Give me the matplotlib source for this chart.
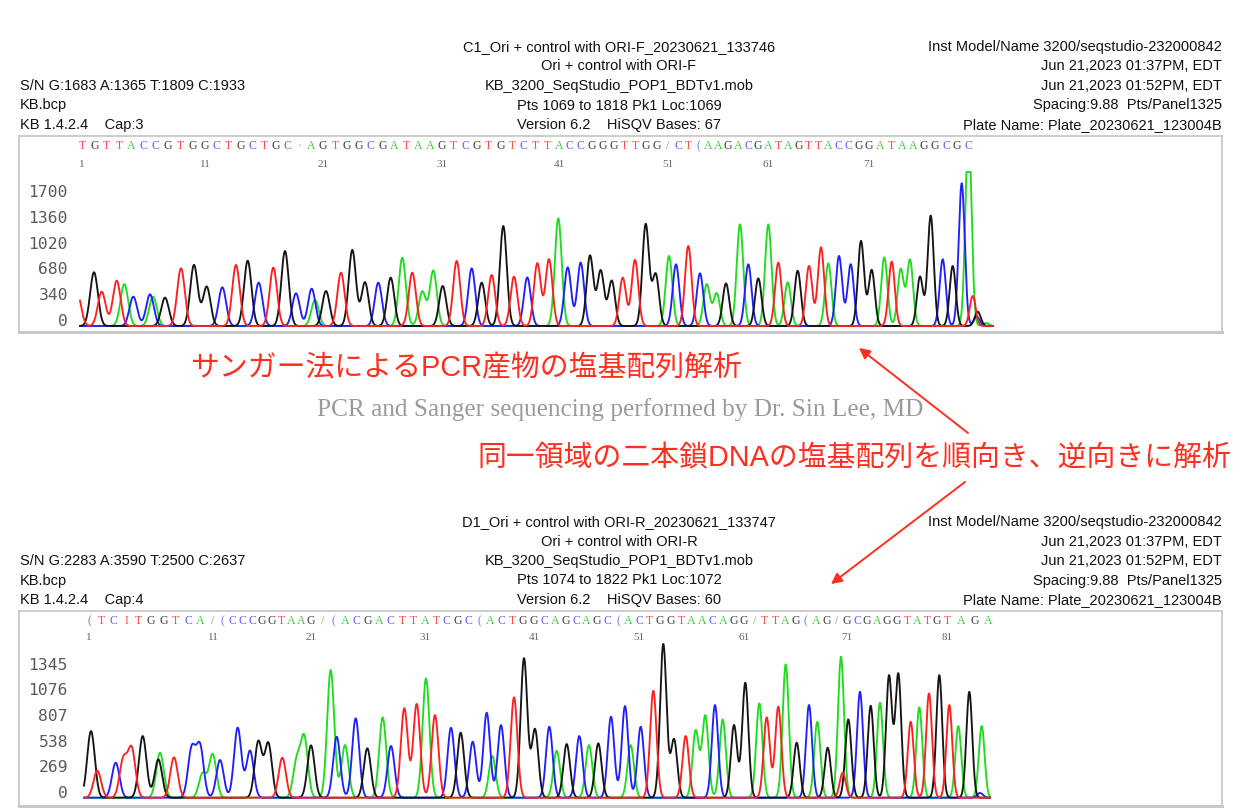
import numpy as np
import matplotlib
matplotlib.use("Agg")
import matplotlib.pyplot as plt

##### Sanger chromatograms: forward (ORI-F) and reverse (ORI-R) read of the same region
##### peak lists are (scan position, signal height)

#### forward read, one list per dye channel
fwd_G = [(94, 708), (165, 374), (194, 804), (206.7, 518), (247.7, 861), (285, 988), (326, 461),
         (352.3, 1002), (365, 576), (390.7, 637), (442.7, 527), (481.7, 571), (503.3, 1318),
         (590, 927), (600.7, 729), (611.7, 597), (645.7, 1340), (655.7, 681), (726, 562),
         (758.3, 628), (797.7, 729), (861, 1120), (871.7, 738), (920, 650), (930.7, 1454),
         (952.7, 791), (977.7, 189)]
fwd_T = [(77, 450), (101.7, 452), (116.7, 597), (181, 760), (236, 804), (273.3, 769), (341, 703),
         (412.3, 703), (456.7, 857), (491.7, 672), (514, 650), (537.3, 826), (549, 879),
         (622.7, 637), (635, 870), (688.3, 1054), (778.3, 835), (809, 791), (821, 1037),
         (891.7, 848), (972.7, 395)]
fwd_A = [(124.3, 553), (153, 387), (315, 343), (402.3, 900), (422.3, 452), (433.3, 729),
         (558.3, 1419), (669, 923), (706.7, 549), (716.7, 431), (740, 1340), (768.3, 1340),
         (787.7, 576), (828.3, 826), (884.3, 905), (900.7, 747), (910, 870), (968.5, 2600),
         (986, 40)]
fwd_C = [(133.3, 387), (150, 417), (222.3, 510), (258.7, 571), (296, 431), (311.7, 492),
         (378.3, 571), (471.7, 760), (527.3, 641), (567.7, 773), (580.7, 835), (676, 813),
         (700, 694), (748.3, 813), (839, 923), (850.7, 813), (942.7, 879), (961.7, 1881),
         (976.7, 123)]

#### reverse read
rev_G = [(91, 700), (142.7, 648), (158.3, 403), (258.3, 588), (268.3, 571), (311, 550),
         (367.3, 519), (460.7, 683), (524, 1464), (535, 718), (566.7, 564), (598.3, 571),
         (663.3, 1614), (674, 613), (734, 763), (745.3, 1208), (796.7, 578), (827.7, 525),
         (848.3, 823), (870.7, 966), (889, 1278), (898.3, 1299), (939.3, 1288), (969.3, 1113)]
rev_T = [(97.3, 284), (123.3, 396), (131.7, 508), (174, 424), (282.3, 420), (404.3, 939),
         (416.7, 984), (435, 868), (514, 1055), (653.3, 1124), (685.7, 648), (766.7, 844),
         (778.3, 956), (842.7, 263), (910.7, 798), (929, 1096), (949.3, 974)]
rev_A = [(160, 473), (202.7, 256), (212.7, 456), (296.7, 378), (304.3, 624), (330.7, 1341),
         (345, 553), (382.7, 844), (426, 1254), (492.3, 438), (556.7, 494), (589, 553),
         (630.7, 553), (695.7, 704), (705.3, 861), (722.7, 823), (759.3, 991), (785.7, 1401),
         (817.3, 798), (841, 1481), (880, 998), (919.3, 949), (958.3, 753), (981.7, 753)]
rev_C = [(115.7, 368), (191.7, 511), (200, 536), (220, 396), (237.7, 735), (250, 494),
         (336.7, 641), (355.7, 834), (391, 543), (451, 735), (472.7, 588), (486.7, 893),
         (501, 763), (549.3, 746), (579.3, 648), (611, 851), (625, 963), (640.7, 746),
         (715, 974), (809, 974), (860, 1113), (980, 50)]

#### base calls as printed above the traces (odd glyphs are clipped letters on the print)
fwd_seq = "TGTTACCGTGGCTGCTGC·AGTGGCGATAAGTCGTGTCTTACCGGGTTGG/CT(AAGACGATAGTTACCGGATAAGGCGC"
rev_seq = "(TCITGGTCA/(CCCGGTAAG/(ACGACTTATCGC(ACTGGCAGCAGC(ACTGGTAACAGG/TTAG(AG/GCGAGGTATGTAGA"

#### base number -> scan position of the numbered bases
fwd_base_no = [1, 11, 21, 31, 41, 51, 61, 71, 80]
fwd_base_pos = [82, 205, 323, 442, 559, 668, 768, 869, 968]
rev_base_no = [1, 11, 21, 31, 41, 51, 61, 71, 81, 84]
rev_base_pos = [89, 213, 311, 425, 534, 639, 744, 847, 947, 988]

#### y axis labels
fwd_yticks = [0, 340, 680, 1020, 1360, 1700]
rev_yticks = [0, 269, 538, 807, 1076, 1345]

#### header blocks (left / centre / right columns)
fwd_left = ["S/N G:1683 A:1365 T:1809 C:1933", "KB.bcp", "KB 1.4.2.4    Cap:3"]
fwd_center = ["C1_Ori + control with ORI-F_20230621_133746", "Ori + control with ORI-F",
              "KB_3200_SeqStudio_POP1_BDTv1.mob", "Pts 1069 to 1818 Pk1 Loc:1069",
              "Version 6.2    HiSQV Bases: 67"]
rev_left = ["S/N G:2283 A:3590 T:2500 C:2637", "KB.bcp", "KB 1.4.2.4    Cap:4"]
rev_center = ["D1_Ori + control with ORI-R_20230621_133747", "Ori + control with ORI-R",
              "KB_3200_SeqStudio_POP1_BDTv1.mob", "Pts 1074 to 1822 Pk1 Loc:1072",
              "Version 6.2    HiSQV Bases: 60"]
right_block = ["Inst Model/Name 3200/seqstudio-232000842", "Jun 21,2023 01:37PM, EDT",
               "Jun 21,2023 01:52PM, EDT", "Spacing:9.88  Pts/Panel1325",
               "Plate Name: Plate_20230621_123004B"]

title_1 = "サンガー法によるPCR産物の塩基配列解析"
title_2 = "同一領域の二本鎖DNAの塩基配列を順向き、逆向きに解析"
credit = "PCR and Sanger sequencing performed by Dr. Sin Lee, MD"

trace_colors = {'G': '#151515', 'A': '#1fdc1f', 'T': '#ff1f1f', 'C': '#2020ff'}
letter_colors = {'G': '#444444', 'A': '#3ccc3c', 'T': '#ff4a4a', 'C': '#6060ff',
                 '·': '#3ccc3c', '/': '#55bb55', '(': '#7070ff', 'I': '#ff4a4a'}
red = '#ff2e1f'

W, H = 1240.0, 810.0
fig = plt.figure(figsize=(W / 100, H / 100), dpi=100)
fig.patch.set_facecolor('white')


def fx(x):
    return x / W


def fy(y):
    return 1 - y / H


#### sum of peaks for one dye channel; peaks get a bit sharper along the run
def channel(xs, peaks, w0, w1):
    y = np.zeros_like(xs)
    for c, h in peaks:
        w = w0 + (w1 - w0) * (c - xs[0]) / (xs[-1] - xs[0])
        y += h * np.exp(-0.5 * ((xs - c) / w) ** 2)
    return y


#### one chromatogram panel
def panel(box, ylim, chans, start, end, widths, yticks, seq, base_no, base_pos,
          letter_y, number_y, clip_top=None):
    left, top, right, bottom = box
    ax = fig.add_axes([fx(left), fy(bottom), (right - left) / W, (bottom - top) / H])
    ax.set_xlim(left, right)
    ax.set_ylim(*ylim)
    xs = np.linspace(start, end, 4000)
    for base in ['A', 'C', 'G', 'T']:
        ys = channel(xs, chans[base], *widths)
        if clip_top is not None:
            ys = np.minimum(ys, clip_top)
        ax.plot(xs, ys, color=trace_colors[base], lw=1.35, solid_joinstyle='round')
    for v in yticks:
        ax.text(left + 49, v, str(v), ha='right', va='baseline', family='DejaVu Sans Mono',
                fontsize=11.8, color='#5a5a5a')
    tr = ax.get_xaxis_transform()
    idx = np.arange(1, len(seq) + 1)
    letter_x = np.interp(idx, base_no, base_pos)
    for ch, x in zip(seq, letter_x):
        ax.text(x, letter_y, ch, transform=tr, ha='center', va='center',
                family='Liberation Serif', fontsize=8.5, color=letter_colors.get(ch, '#888888'))
    for n, x in zip(base_no, base_pos):
        if (n - 1) % 10 == 0:
            ax.text(x, number_y, str(n), transform=tr, ha='center', va='center',
                    family='Liberation Serif', fontsize=8, color='#666666')
    ax.set_xticks([])
    ax.set_yticks([])
    for s in ax.spines.values():
        s.set_color('#c9c9c9')
        s.set_linewidth(1.3)
    ax.spines['bottom'].set_linewidth(2.2)
    return ax


#### header text for one panel
def header(top_y, left_lines, center_lines, right_lines):
    kw = dict(family='Liberation Sans', fontsize=10.5, color='#111111', va='center')
    step = 19.5
    for i, t in enumerate(center_lines):
        fig.text(fx(619), fy(top_y + i * step), t, ha='center', **kw)
    for i, t in enumerate(right_lines):
        fig.text(fx(1222), fy(top_y + i * step), t, ha='right', **kw)
    for i, t in enumerate(left_lines):
        fig.text(fx(20), fy(top_y + (i + 2) * step), t, ha='left', **kw)


header(47, fwd_left, fwd_center, right_block)
header(522, rev_left, rev_center, right_block)

panel((19, 136, 1222, 332), (-79, 2504), {'G': fwd_G, 'A': fwd_A, 'T': fwd_T, 'C': fwd_C},
      80, 993, (3.9, 3.0), fwd_yticks, fwd_seq, fwd_base_no, fwd_base_pos, 0.949, 0.857,
      clip_top=2030)
panel((19, 611, 1222, 806), (-87, 1962), {'G': rev_G, 'A': rev_A, 'T': rev_T, 'C': rev_C},
      84, 990, (3.8, 2.9), rev_yticks, rev_seq, rev_base_no, rev_base_pos, 0.949, 0.862)

#### annotations: latin letters from the sans family, kana/kanji fall back to Noto CJK
jp_family = ['Liberation Sans', 'Noto Sans CJK JP']
fig.text(fx(190), fy(368), title_1, ha='left', va='center', color=red, fontsize=20.8,
         family=jp_family)
fig.text(fx(477), fy(458), title_2, ha='left', va='center', color=red, fontsize=20.8,
         family=jp_family)
fig.text(fx(620), fy(410), credit, ha='center', va='center', color='#9a9a9a', fontsize=18.2,
         family='Liberation Serif')

over = fig.add_axes([0, 0, 1, 1], facecolor='none')
over.set_xlim(0, W)
over.set_ylim(H, 0)
over.axis('off')
arrow = dict(arrowstyle='-|>', color=red, lw=1.4, mutation_scale=16, shrinkA=0, shrinkB=0)
over.annotate('', xy=(859, 348), xytext=(968, 433), arrowprops=arrow)
over.annotate('', xy=(831, 584), xytext=(965, 482), arrowprops=arrow)

fig.savefig('out.png', dpi=100, facecolor='white')
